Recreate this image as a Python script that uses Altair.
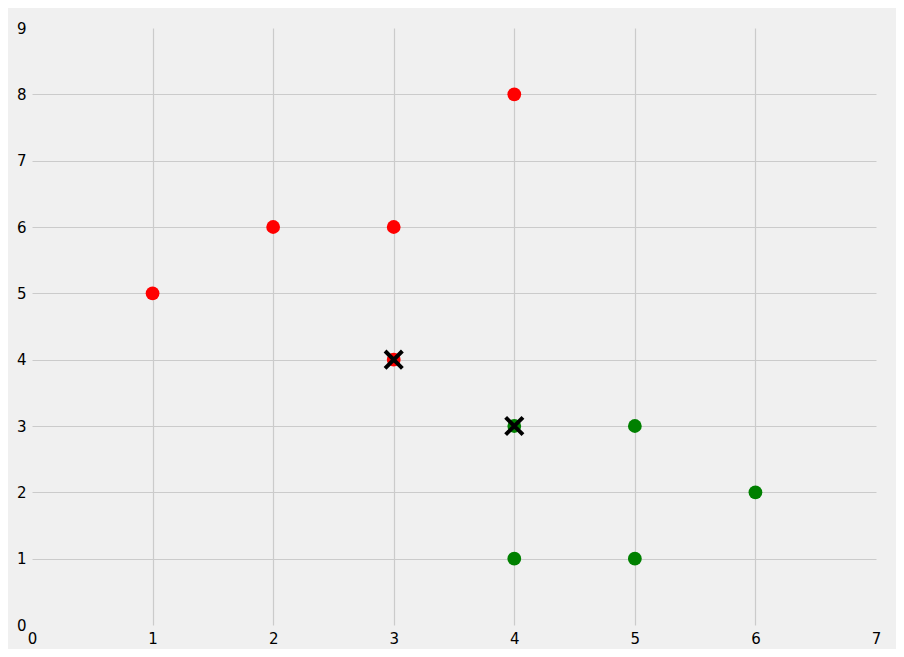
import pandas as pd
import altair as alt

# Points of the two groups
red_x = [1, 2, 3, 4, 3]
red_y = [5, 6, 6, 8, 4]
green_x = [4, 5, 5, 6, 4]
green_y = [1, 1, 3, 2, 3]

# Group centres, drawn as black crosses
centre_x = [3, 4]
centre_y = [4, 3]

x_ticks = list(range(0, 8))
y_ticks = list(range(0, 10))

points = pd.DataFrame({
    'x': red_x + green_x,
    'y': red_y + green_y,
    'group': ['red'] * len(red_x) + ['green'] * len(green_x),
})
centres = pd.DataFrame({'x': centre_x, 'y': centre_y})

label_font = 'DejaVu Sans'

# Hide the grid lines sitting on the frame edges
x_axis = alt.Axis(
    values=x_ticks, format='d', grid=True, ticks=False, domain=False,
    labelPadding=6, labelFlush=False,
    gridOpacity=alt.condition('datum.value == 0 || datum.value == 7', alt.value(0), alt.value(1)),
    title=None,
)
y_axis = alt.Axis(
    values=y_ticks, format='d', grid=True, ticks=False, domain=False,
    labelPadding=6, labelFlush=False,
    gridOpacity=alt.condition('datum.value == 0 || datum.value == 9', alt.value(0), alt.value(1)),
    title=None,
)

x_enc = alt.X('x:Q', scale=alt.Scale(domain=[0, 7], nice=False, zero=False), axis=x_axis)
y_enc = alt.Y('y:Q', scale=alt.Scale(domain=[0, 9], nice=False, zero=False), axis=y_axis)

dots = alt.Chart(points).mark_circle(size=190, opacity=1).encode(
    x=x_enc,
    y=y_enc,
    color=alt.Color('group:N', scale=alt.Scale(domain=['red', 'green'], range=['#ff0000', '#008000']), legend=None),
)

crosses = alt.Chart(centres).mark_point(
    shape='M-1,-1L1,1M-1,1L1,-1', size=300, color='black', strokeWidth=4, filled=False, opacity=1,
).encode(
    x=alt.X('x:Q'),
    y=alt.Y('y:Q'),
)

chart = (dots + crosses).properties(
    width=844,
    height=597,
    autosize=alt.AutoSizeParams(type='none'),
    padding={'left': 24, 'top': 20, 'right': 20, 'bottom': 24},
).configure(
    background='#f0f0f0',
).configure_axis(
    gridColor='#cbcbcb',
    gridWidth=1.2,
    labelFont=label_font,
    labelFontSize=15,
    labelColor='#000000',
).configure_view(
    stroke=None,
    fill='#f0f0f0',
)

chart.save("out.html", embed_options={"renderer": "svg", "actions": False})
